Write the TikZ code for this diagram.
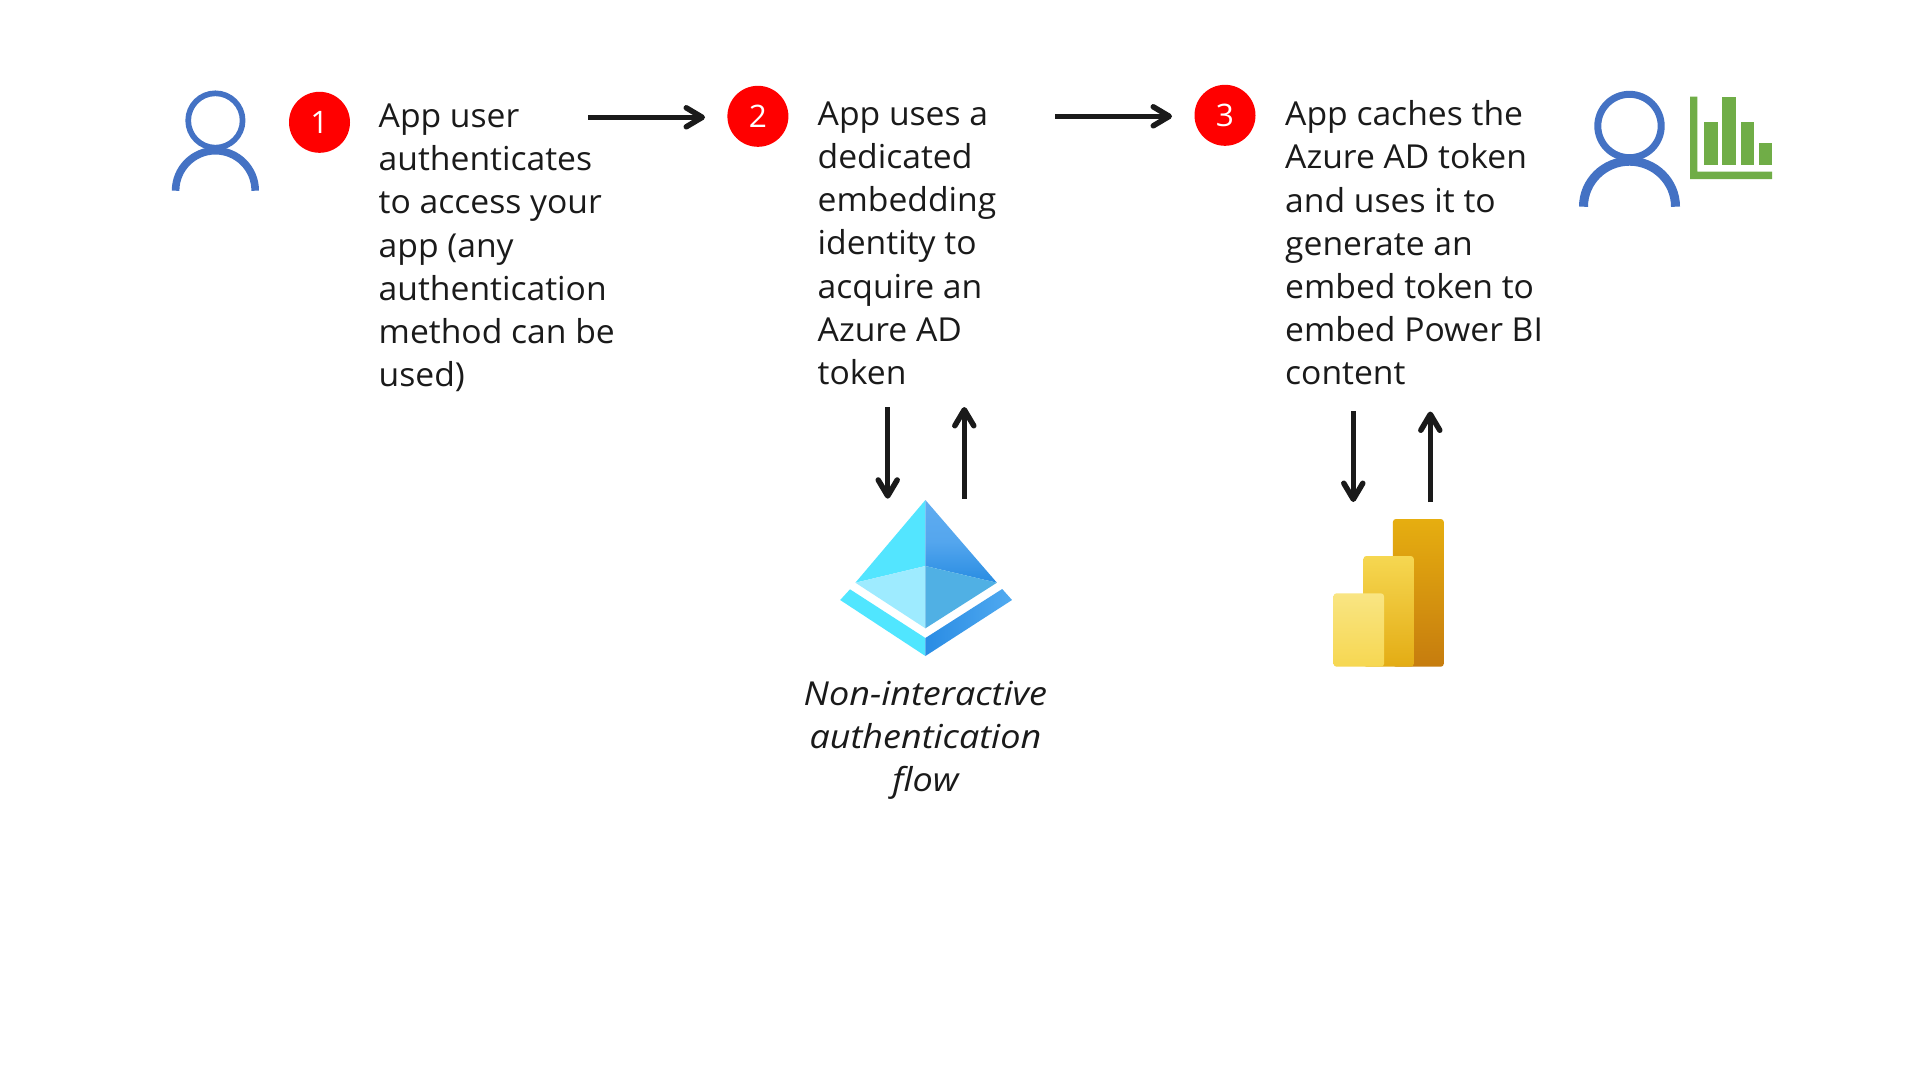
\documentclass[tikz,border=0pt]{standalone}
\usepackage{fontspec}
\setmainfont[FakeStretch=1.02]{Open Sans}
\newfontfamily\italfam[FakeStretch=1.09]{Open Sans}
\usetikzlibrary{arrows.meta,calc}
\definecolor{ink}{HTML}{1A1A1A}
\definecolor{personblue}{HTML}{4472C4}
\definecolor{chartgreen}{HTML}{70AD47}
\tikzset{
  x=1pt,y=-1pt,
  badge/.style={circle,fill=red,text=white,minimum size=61pt,inner sep=0pt,font=\fontsize{31}{36}\selectfont},
  body/.style={anchor=north west,inner sep=0pt,align=left,text=ink,font=\fontsize{33}{43.2}\selectfont},
  flowarrow/.style={draw=ink,line width=5pt,-{Straight Barb[length=16pt,width=19pt,line width=5.5pt,round]}},
  personline/.style={draw=personblue,fill=none},
  bar/.style={fill=chartgreen,draw=none},
}
\begin{document}
\begin{tikzpicture}
\useasboundingbox (0,0) rectangle (1920,1080);
\fill[white] (0,0) rectangle (1920,1080);
% person left
\draw[personline,line width=5.7pt] (215.4,120.5) circle[radius=27.2];
\draw[personline,line width=7.6pt] (175.6,190.7) arc[start angle=180,end angle=0,x radius=39.8,y radius=-40];
% person right
\draw[personline,line width=7pt] (1629.5,126) circle[radius=31.7];
\draw[personline,line width=9pt] (1583.5,206.7) arc[start angle=180,end angle=0,x radius=46,y radius=-45.5];
% chart
\fill[bar] (1690,96.7) -- (1697.3,96.7) -- (1697.3,171.7) -- (1772,171.7) -- (1772,179) -- (1690,179) -- cycle;
\fill[bar] (1704.3,122.3) rectangle (1717.7,164.7);
\fill[bar] (1722.3,96.7) rectangle (1736,164.7);
\fill[bar] (1740.7,122.3) rectangle (1754,164.7);
\fill[bar] (1759,142.7) rectangle (1772,164.7);
% badges
\node[badge] (b1) at (319.5,122.3) {1};
\node[badge] (b2) at (757.9,116.3) {2};
\node[badge] (b3) at (1225,115.3) {3};
% texts
\node[body] (t1) at (378.5,103.7) {App user\\authenticates\\to access your\\app (any\\authentication\\method can be\\used)};
\node[body] (t2) at (817.5,101.5) {App uses a\\dedicated\\embedding\\identity to\\acquire an\\Azure AD\\token};
\node[body] (t3) at (1285,100.5) {App caches the\\Azure AD token\\and uses it to\\generate an\\embed token to\\embed Power BI\\content};
\node[body,anchor=north,align=center,font=\fontsize{33}{43.2}\italfam\itshape\selectfont] (t4) at (925.4,681) {Non-interactive\\authentication\\flow};
% arrow end points
\coordinate (a1s) at (588,117.3); \coordinate (a1e) at (705,117.3);
\coordinate (a2s) at (1055,116.3); \coordinate (a2e) at (1172,116.3);
\coordinate (d1s) at (887.7,407); \coordinate (d1e) at (887.7,498.7);
\coordinate (u1s) at (964.3,498.7); \coordinate (u1e) at (964.3,407);
\coordinate (d2s) at (1353.3,411); \coordinate (d2e) at (1353.3,502);
\coordinate (u2s) at (1430.3,502); \coordinate (u2e) at (1430.3,411.5);
\draw[flowarrow] (a1s) -- (a1e);
\draw[flowarrow] (a2s) -- (a2e);
\draw[flowarrow] (d1s) -- (d1e);
\draw[flowarrow] (u1s) -- (u1e);
\draw[flowarrow] (d2s) -- (d2e);
\draw[flowarrow] (u2s) -- (u2e);
% Azure AD icon
\fill[color={rgb,255:red,83;green,229;blue,255}] (925.4,500) -- (925.4,566) -- (855.4,582.7) -- cycle;
\shade[top color={rgb,255:red,96;green,172;blue,240},bottom color={rgb,255:red,40;green,140;blue,226},middle color={rgb,255:red,84;green,166;blue,238}] (925.4,500) -- (996.9,582.7) -- (925.4,566) -- cycle;
\fill[color={rgb,255:red,158;green,235;blue,255}] (925.4,566) -- (855.4,582.7) -- (925.4,628.3) -- cycle;
\fill[color={rgb,255:red,80;green,176;blue,228}] (925.4,566) -- (996.9,582.7) -- (925.4,628.3) -- cycle;
\fill[color={rgb,255:red,80;green,230;blue,255}] (850,589.3) -- (925.4,638) -- (925.4,656) -- (840.2,600) -- cycle;
\shade[left color={rgb,255:red,42;green,140;blue,228},right color={rgb,255:red,80;green,170;blue,240}] (1002.2,589) -- (925.4,638) -- (925.4,656) -- (1012,600) -- cycle;
% Power BI icon
\shade[rounded corners=3pt,top color={rgb,255:red,230;green,174;blue,16},bottom color={rgb,255:red,198;green,124;blue,14}] (1392.9,519) rectangle (1443.8,666.7);
\shade[rounded corners=3pt,top color={rgb,255:red,246;green,215;blue,81},bottom color={rgb,255:red,227;green,172;blue,20}] (1363.4,556) rectangle (1413.8,666.7);
\shade[rounded corners=3pt,top color={rgb,255:red,249;green,229;blue,131},bottom color={rgb,255:red,246;green,215;blue,81}] (1333.5,593.3) rectangle (1384,666.7);
\end{tikzpicture}
\end{document}
